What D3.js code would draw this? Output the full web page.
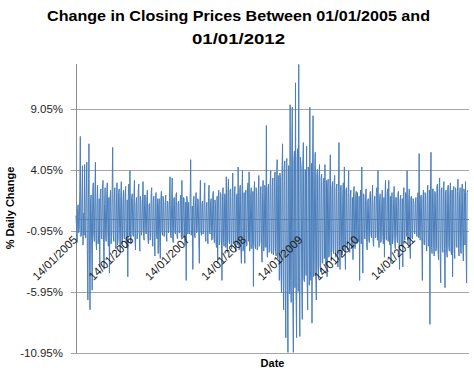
<!DOCTYPE html>
<html>
<head>
<meta charset="utf-8">
<script src="https://cdn.jsdelivr.net/npm/d3@7"></script>
<style>
  html, body { margin: 0; padding: 0; background: #ffffff; }
  svg { display: block; }
  text { font-family: "Liberation Sans", Arial, sans-serif; }
</style>
</head>
<body>
<svg id="chart" width="474" height="373"></svg>
<script>
// ---- data (twice-weekly readings of % daily change) ----
const years = [2005, 2006, 2007, 2008, 2009, 2010, 2011];
const values2005 = [0.3, -0.6, -1.9, 0.9, 1.2, -1.1, -0.8, 2.3, 6.8, -1.4, -1.2, 1.6, 4.4, -2.1, 0.5, -1.3, 4.5, -0.9, -1.5, 2.0, 4.7, -2.4, -6.6, 1.8, 6.2, -2.9, -7.4, 1.5, 2.0, -1.7, -5.8, 2.2, 3.0, -1.2, -1.8, 1.9, 4.7, -1.6, -2.5, 1.4, 2.8, -2.0, -1.3, 1.7, -3.9, 2.1, 2.5, -1.4, -1.6, 2.4, 3.2, -1.9, -4.1, 1.3, 2.6, -1.5, -1.8, 2.0, 3.0, -1.1, -2.2, 1.8, -4.4, 1.6, 2.4, -2.0, -1.5, 2.3, 5.9, -1.2, -1.8, 1.7, 2.6, -1.6, -2.4, 1.5, 3.0, -2.1, -1.7, 2.2, 2.5, -1.3, -2.8, 1.9, 3.1, -1.8, -2.0, 1.4, 2.4, -1.5, -1.6, 2.1, 2.7, -1.9, -2.3, 1.6, -4.7, 2.0, 2.9, -1.4, 4.0, -1.7, -2.0, 1.8];
const values2006 = [2.1, -1.2, -1.4, 1.7, 3.2, -1.5, -2.5, 1.3, 1.8, -1.6, -1.1, 2.2, 2.9, -1.0, -2.6, 1.9, 1.5, -1.3, -0.9, 1.6, 3.1, -1.4, -1.7, 2.0, 2.0, -1.1, -1.2, 1.8, 2.4, -1.5, -2.0, 1.2, 1.3, -1.7, -1.5, 2.1, 2.6, -1.3, -2.2, 1.5, 1.9, -1.8, -3.0, 1.4, 2.2, -1.2, -1.6, 1.7, -2.8, 1.1, 1.7, -1.9, -3.2, 1.6, 2.3, -1.0, -1.3, 1.9, 1.6, -1.4, -1.0, 1.3, 2.0, -1.2, -1.8, 1.5, 1.4, -1.1, -0.8, 1.8, 3.5, -1.3, -1.5, 1.2, 3.4, -1.6, -1.9, 1.7, 1.8, -1.0, -1.2, 2.0, 2.2, -1.4, -1.6, 1.3, 1.5, -1.1, -1.1, 1.6, 2.0, -1.5, 3.2, -1.0, -1.4, 1.8, 1.7, -1.3, -2.1, 1.4, -5.0, 1.9, 1.6, -1.2];
const values2007 = [1.4, -1.0, -1.2, 1.5, 4.9, -1.3, -0.8, 1.1, -4.1, 1.6, 1.9, -1.2, -1.5, 1.4, 2.2, -1.1, -1.0, 1.7, 1.6, -1.4, -3.6, 1.2, 3.2, -1.0, -1.3, 1.3, 1.5, -1.2, -0.9, 1.6, 3.0, -1.3, -1.8, 1.0, 1.4, -1.5, -2.0, 1.8, 2.8, -1.1, -1.2, 1.5, 1.7, -1.7, -1.6, 2.0, 2.3, -1.4, -1.9, 1.6, 1.2, -2.0, -2.3, 1.9, -3.6, 1.7, 2.4, -2.1, -1.8, 2.2, 2.0, -1.6, -5.0, 2.0, 2.6, -1.9, -2.2, 2.1, 1.9, -2.3, 3.5, -1.8, -2.7, 2.2, 3.3, -1.7, -2.0, 2.4, 2.5, -2.2, -2.4, 1.8, 3.8, -2.0, -1.9, 2.3, 2.7, -2.4, -2.6, 1.9, 2.1, -2.1, 4.3, -1.8, -2.5, 2.5, 2.8, -2.3, -3.6, 2.0, 4.0, -2.6, -2.2, 2.2];
const values2008 = [-3.6, 2.0, 2.4, -2.2, -2.1, 2.5, 3.0, -1.8, 3.9, -2.6, -2.3, 2.1, 2.6, -2.4, -2.0, 2.3, -5.5, 1.9, 3.1, -2.1, -2.4, 2.6, 2.2, -2.5, -2.3, 2.0, 3.6, -2.2, -1.9, 2.4, 2.7, -2.0, -3.5, 2.2, 3.2, -2.6, -2.2, 2.8, 2.5, -2.3, 7.7, -2.1, -3.1, 2.5, 2.9, -2.7, -2.6, 3.0, 4.0, -2.5, -2.8, 2.7, 3.4, -2.9, -2.4, 3.1, 3.9, -2.6, -3.0, 3.3, 4.9, -3.2, -2.7, 3.6, -5.0, 3.8, 3.5, -4.1, -6.0, 3.9, 6.2, -4.5, -7.4, 4.2, 4.8, -5.2, -9.7, 4.6, 5.0, -5.8, -10.9, 4.4, 4.4, -6.1, 9.4, -5.0, -6.8, 5.2, 9.2, -6.4, -10.9, 4.8, 5.6, -5.6, 11.2, -6.2, -9.7, 4.9, 5.8, -5.9, 12.7, -4.8, -9.6, 5.1];
const values2009 = [4.2, -5.3, -8.2, 4.5, 6.3, -4.9, -5.1, 4.1, 4.0, -4.6, 6.0, -5.0, -7.4, 4.3, 3.8, -5.4, 9.2, -4.2, -5.0, 4.6, -8.5, 3.9, 8.5, -4.7, -4.4, 4.0, 5.5, -4.5, -6.6, 3.7, 4.1, -4.0, -4.9, 3.5, 4.5, -3.8, -4.3, 3.4, 3.7, -3.5, -3.6, 3.0, 3.4, -3.2, 4.5, -2.9, -3.8, 3.2, -4.7, 2.8, 3.3, -3.1, -3.0, 2.9, 5.3, -2.7, -3.4, 2.6, 3.1, -2.5, -2.8, 3.0, 3.6, -2.4, -3.1, 2.5, 2.9, -2.6, -3.9, 2.3, 6.3, -2.2, -4.1, 2.7, 2.8, -2.3, -2.9, 2.1, 3.0, -2.5, 4.3, -2.0, -4.1, 2.4, 2.6, -2.1, -2.5, 2.2, 4.0, -1.9, -2.7, 2.0, 2.4, -2.3, -2.2, 1.8, -3.3, 2.1, 2.7, -1.7, -2.4, 1.9, 2.3, -2.0];
const values2010 = [2.2, -1.5, -1.8, 1.9, -5.0, 1.6, 2.4, -2.0, 4.3, -1.7, -4.4, 2.1, 2.0, -1.4, -1.6, 1.8, 2.5, -1.9, -2.5, 1.5, 1.7, -1.6, -1.9, 2.0, 2.3, -1.2, -1.5, 1.7, 2.8, -1.8, -2.2, 1.4, 1.9, -1.5, -1.4, 2.2, 2.6, -1.7, 4.0, -1.3, -2.3, 1.6, 2.1, -1.9, -1.8, 1.5, 2.4, -1.4, -2.0, 1.8, -3.1, 1.7, 3.2, -1.6, -1.7, 2.0, 2.5, -1.8, 3.2, -1.2, -2.1, 1.9, -3.6, 1.4, 2.2, -2.0, -1.6, 1.6, 2.7, -1.5, -2.4, 1.8, 1.8, -1.3, -1.9, 2.1, 2.3, -1.7, -4.1, 1.5, 2.0, -1.9, -2.2, 1.7, -3.9, 1.9, 2.6, -1.6, -1.7, 2.2, 2.1, -1.4, 4.0, -1.8, -2.0, 1.6, 2.5, -2.1, -3.2, 1.8, 1.9, -1.5, -1.6, 1.7];
const values2011 = [1.5, -1.1, -1.2, 1.3, 1.8, -1.0, -1.4, 1.6, 2.2, -1.5, 5.4, -1.3, -1.7, 1.9, 2.0, -1.8, -5.0, 1.7, 2.4, -2.0, -2.1, 2.2, 1.9, -1.9, -2.6, 2.0, 2.8, -2.2, -2.0, 2.4, -8.6, 2.1, 5.5, -2.3, -2.8, 2.5, 2.5, -2.4, -3.0, 2.3, 2.2, -2.6, -2.4, 2.7, 2.9, -2.5, -3.3, 2.2, 3.4, -2.8, -5.2, 2.4, 2.6, -2.2, -2.7, 2.6, 3.1, -2.4, -5.6, 2.3, 2.4, -2.7, -3.1, 2.5, 2.8, -2.3, -2.6, 2.1, 3.0, -2.6, -2.9, 2.4, -4.7, 2.2, 2.7, -2.5, -3.2, 2.6, 2.5, -2.2, -2.3, 2.3, 3.3, -2.4, -3.0, 2.1, 2.6, -2.7, -2.8, 2.4, 2.9, -2.3, -3.4, 2.5, 2.2, -2.1, 3.1, -2.6, -5.2, 2.2, 2.4];
const yearValues = [values2005, values2006, values2007, values2008, values2009, values2010, values2011];

const yTicks = [-10.95, -5.95, -0.95, 4.05, 9.05];
const yTickLabels = ["-10.95%", "-5.95%", "-0.95%", "4.05%", "9.05%"];
const xTickLabels = ["14/01/2005", "14/01/2006", "14/01/2007", "14/01/2008", "14/01/2009", "14/01/2010", "14/01/2011"];
const titleLines = ["Change in Closing Prices Between 01/01/2005 and", "01/01/2012"];
const yTitle = "% Daily Change";
const xTitle = "Date";

// ---- build series ----
const parseTick = d3.timeParse("%d/%m/%Y");
const series = [];
years.forEach((yr, k) => {
  const start = new Date(yr, 0, 14);
  yearValues[k].forEach((v, j) => {
    series.push({ date: d3.timeHour.offset(start, 84 * j), value: v });
  });
});

// ---- layout ----
const svg = d3.select("#chart");
const plotLeft = 76, plotRight = 469, plotTop = 64, plotBottom = 353;

const x = d3.scaleTime()
  .domain([parseTick("14/01/2005"), parseTick("14/01/2012")])
  .range([plotLeft, 470]);
const y = d3.scaleLinear()
  .domain([-10.95, 12.74])
  .range([plotBottom, plotTop]);

// gridlines
svg.append("g").selectAll("line").data(yTicks).join("line")
  .attr("x1", plotLeft - 5).attr("x2", plotRight)
  .attr("y1", d => Math.round(y(d)) + 0.5).attr("y2", d => Math.round(y(d)) + 0.5)
  .attr("stroke", "#a6a6a6").attr("stroke-width", 1);

// y axis line
svg.append("line")
  .attr("x1", plotLeft + 0.5).attr("x2", plotLeft + 0.5)
  .attr("y1", plotTop).attr("y2", plotBottom)
  .attr("stroke", "#8c8c8c").attr("stroke-width", 1);

// horizontal axis at 0
svg.append("line")
  .attr("x1", plotLeft).attr("x2", plotRight)
  .attr("y1", Math.round(y(0)) + 0.5).attr("y2", Math.round(y(0)) + 0.5)
  .attr("stroke", "#8c8c8c").attr("stroke-width", 1);

// y tick labels
svg.append("g").selectAll("text").data(yTicks).join("text")
  .attr("x", 63).attr("y", d => y(d))
  .attr("dy", "0.35em")
  .attr("text-anchor", "end")
  .attr("font-size", "11.5px")
  .attr("fill", "#262626")
  .text((d, i) => yTickLabels[i]);

// data line
const line = d3.line().x(d => x(d.date)).y(d => y(d.value));
svg.append("path")
  .datum(series)
  .attr("d", line)
  .attr("fill", "none")
  .attr("stroke", "#4a7ebb")
  .attr("stroke-width", 1)
  .attr("stroke-linejoin", "round");

// x tick labels (rotated)
svg.append("g").selectAll("text").data(xTickLabels).join("text")
  .attr("transform", d => `translate(${x(parseTick(d)) + 2},${y(0) + 21}) rotate(-45)`)
  .attr("text-anchor", "end")
  .attr("font-size", "11.5px")
  .attr("fill", "#1a1a1a")
  .text(d => d);

// title
const titleWidths = [383, 93];
svg.append("g").selectAll("text").data(titleLines).join("text")
  .attr("x", 238.5)
  .attr("y", (d, i) => 20.5 + i * 23)
  .attr("text-anchor", "middle")
  .attr("font-size", "15.5px")
  .attr("font-weight", "bold")
  .attr("fill", "#000")
  .attr("textLength", (d, i) => titleWidths[i])
  .attr("lengthAdjust", "spacingAndGlyphs")
  .text(d => d);

// axis titles
svg.append("text")
  .attr("transform", "translate(14,208) rotate(-90)")
  .attr("text-anchor", "middle")
  .attr("font-size", "11px")
  .attr("font-weight", "bold")
  .attr("fill", "#000")
  .text(yTitle);

svg.append("text")
  .attr("x", (plotLeft + plotRight) / 2)
  .attr("y", 367)
  .attr("text-anchor", "middle")
  .attr("font-size", "11px")
  .attr("font-weight", "bold")
  .attr("fill", "#000")
  .text(xTitle);
</script>
</body>
</html>
